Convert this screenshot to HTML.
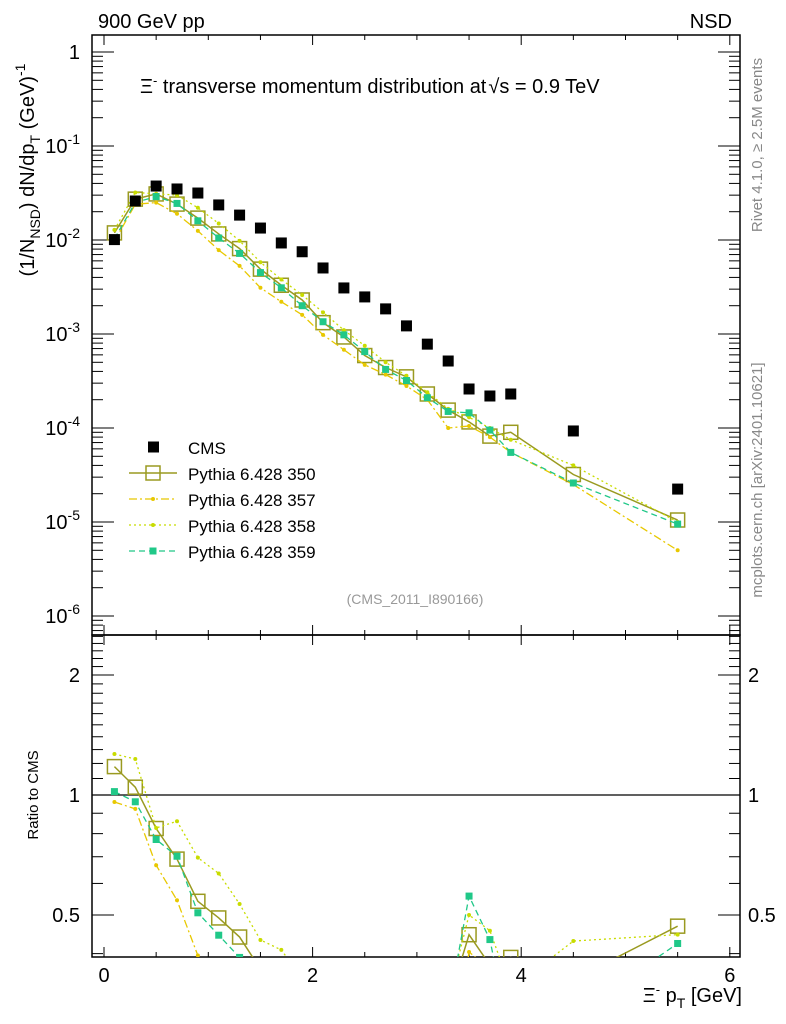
<!DOCTYPE html>
<html><head><meta charset="utf-8"><style>
html,body{margin:0;padding:0;background:#fff;width:786px;height:1024px;overflow:hidden}
svg{display:block}
svg text{font-family:"Liberation Sans",sans-serif}
</style></head><body>
<svg id="c" width="786" height="1024" xmlns="http://www.w3.org/2000/svg">
<defs>
<clipPath id="cm"><rect x="92" y="35" width="648" height="600"/></clipPath>
<clipPath id="cr"><rect x="92" y="635" width="648" height="322"/></clipPath>
</defs>
<text x="98" y="28" font-size="20">900 GeV pp</text>
<text x="732" y="28" font-size="20" text-anchor="end">NSD</text>
<text x="140" y="93" font-size="20">Ξ<tspan dy="-8" font-size="13">-</tspan><tspan dy="8"> transverse momentum distribution at</tspan><tspan dx="2">√s = 0.9 TeV</tspan></text>
<text x="415" y="604" font-size="14" fill="#999" text-anchor="middle">(CMS_2011_I890166)</text>
<text transform="translate(762,145) rotate(-90)" font-size="15" fill="#888" text-anchor="middle">Rivet 4.1.0, ≥ 2.5M events</text>
<text transform="translate(762,480) rotate(-90)" font-size="15" fill="#888" text-anchor="middle">mcplots.cern.ch [arXiv:2401.10621]</text>
<text transform="translate(34,170) rotate(-90)" font-size="20" text-anchor="middle">(1/N<tspan dy="6" font-size="14">NSD</tspan><tspan dy="-6">) dN/dp</tspan><tspan dy="6" font-size="14">T</tspan><tspan dy="-6"> (GeV)</tspan><tspan dy="-9" font-size="14">-1</tspan></text>
<text transform="translate(38,795) rotate(-90)" font-size="15" text-anchor="middle">Ratio to CMS</text>
<text x="742" y="1002" font-size="20" text-anchor="end">Ξ<tspan dy="-8" font-size="13">-</tspan><tspan dy="8"> p</tspan><tspan dy="6" font-size="14">T</tspan><tspan dy="-6"> [GeV]</tspan></text>
<g id="axes"></g><g id="marks"></g><g id="legend"></g>
</svg>
<script>
const xs=[0.1,0.3,0.5,0.7,0.9,1.1,1.3,1.5,1.7,1.9,2.1,2.3,2.5,2.7,2.9,3.1,3.3,3.5,3.7,3.9,4.5,5.5];
const cms=[0.0101,0.026,0.0375,0.0349,0.0316,0.0236,0.0184,0.0134,0.0093,0.0075,0.00504,0.00309,0.00248,0.00185,0.00122,0.00078,0.000516,0.00026,0.000219,0.00023,9.3e-5,2.24e-5];
const p350=[0.0119,0.0272,0.0309,0.0241,0.0171,0.0116,0.0081,0.0049,0.0033,0.0023,0.00132,0.00093,0.00059,0.00044,0.00035,0.00023,0.000155,0.000116,8.2e-5,9e-5,3.2e-5,1.05e-5];
const p357=[0.0097,0.024,0.025,0.019,0.0125,0.0078,0.0053,0.0031,0.0022,0.0016,0.00098,0.00068,0.00047,0.00037,0.00028,0.0002,0.0001,0.000105,8e-5,5.5e-5,2.5e-5,5e-6];
const p358=[0.0128,0.032,0.031,0.030,0.022,0.015,0.0098,0.0058,0.0038,0.0026,0.0017,0.0011,0.00075,0.0005,0.00036,0.00024,0.00016,0.00013,0.0001,7.5e-5,4e-5,1.0e-5];
const p359=[0.0103,0.025,0.029,0.0245,0.016,0.0105,0.0072,0.0045,0.0031,0.002,0.00135,0.00098,0.00065,0.00042,0.00032,0.00021,0.00015,0.000145,9.5e-5,5.5e-5,2.6e-5,9.5e-6];
const xTicks=[0,2,4,6];
const yTicks=[0,-1,-2,-3,-4,-5,-6];
const rTicks=[0.5,1,2];
const NS="http://www.w3.org/2000/svg";
const L=92,R=740,T=35,MB=635,RB=957;
const X=v=>104+v*104.3;
const Y=v=>52-Math.log10(v)*94;
const YR=v=>795-Math.log10(v)*398.6;
function mk(p,tag,at){const e=document.createElementNS(NS,tag);for(const k in at)e.setAttribute(k,at[k]);p.appendChild(e);return e;}
const ax=document.getElementById('axes'),mg=document.getElementById('marks'),lg=document.getElementById('legend');
function ln(x1,y1,x2,y2,w){return mk(ax,'line',{x1,y1,x2,y2,stroke:'#000','stroke-width':w||1});}
let f=mk(ax,'rect',{x:L,y:T,width:R-L,height:MB-T,fill:'none',stroke:'#000','stroke-width':1.5});

f=mk(ax,'rect',{x:L,y:MB,width:R-L,height:RB-MB,fill:'none',stroke:'#000','stroke-width':1.5});

// x ticks
for(let v=0;v<=6.01;v+=0.5){const x=X(v);if(x>R)continue;const maj=Math.abs(v-Math.round(v/2)*2)<0.01;const l=maj?10:5;
ln(x,MB,x,MB-l);ln(x,T,x,T+l);ln(x,RB,x,RB-l);ln(x,MB,x,MB+l);}
xTicks.forEach(v=>{const t=mk(ax,'text',{x:X(v),y:982,'font-size':20,'text-anchor':'middle'});t.textContent=v;
});
// y ticks log
for(let d=-7;d<=0;d++)for(let m=1;m<10;m++){const v=m*Math.pow(10,d);const y=Y(v);if(y<T||y>MB)continue;const l=m==1?22:11;ln(L,y,L+l,y);ln(R,y,R-l,y);}
yTicks.forEach(e=>{const t=mk(ax,'text',{x:80,y:Y(Math.pow(10,e))+7,'font-size':20,'text-anchor':'end'});
if(e==0)t.textContent='1';else{t.textContent='10';const s=mk(t,'tspan',{dy:-9,'font-size':14});s.textContent=e;}
});
// ratio ticks
for(let m=4;m<=25;m++){const v=m/10;const y=YR(v);if(y<MB||y>RB)continue;const maj=(v==0.5||v==1||v==2);const l=maj?22:11;ln(L,y,L+l,y);ln(R,y,R-l,y);}
rTicks.forEach(v=>{const y=YR(v)+7;let t=mk(ax,'text',{x:80,y,'font-size':20,'text-anchor':'end'});t.textContent=v;

t=mk(ax,'text',{x:748,y,'font-size':20});t.textContent=v;
});
let ref=ln(L,YR(1),R,YR(1),1.3);
// series
const series=[
{n:'350',d:p350,c:'#9a9a20',dash:'',mark:'open',w:1.5},
{n:'357',d:p357,c:'#e8c800',dash:'8,3,2,3',mark:'dot',w:1.3},
{n:'358',d:p358,c:'#c8dc00',dash:'2,3',mark:'dot',w:1.3},
{n:'359',d:p359,c:'#20c888',dash:'6,4',mark:'sq',w:1.3}];
function marker(g,s,x,y){
 if(s.mark=='open')mk(g,'rect',{x:x-7,y:y-7,width:14,height:14,fill:'none',stroke:s.c,'stroke-width':1.5});
 else if(s.mark=='sq')mk(g,'rect',{x:x-3.5,y:y-3.5,width:7,height:7,fill:s.c});
 else mk(g,'circle',{cx:x,cy:y,r:2,fill:s.c});
}
series.forEach(s=>{
 const g=mk(mg,'g',{'clip-path':'url(#cm)'});
 
 mk(g,'polyline',{points:xs.map((x,i)=>X(x)+','+Y(s.d[i])).join(' '),fill:'none',stroke:s.c,'stroke-width':s.w,'stroke-dasharray':s.dash});
 xs.forEach((x,i)=>marker(g,s,X(x),Y(s.d[i])));
 const gr=mk(mg,'g',{'clip-path':'url(#cr)'});
 
 mk(gr,'polyline',{points:xs.map((x,i)=>X(x)+','+YR(s.d[i]/cms[i])).join(' '),fill:'none',stroke:s.c,'stroke-width':s.w,'stroke-dasharray':s.dash});
 xs.forEach((x,i)=>marker(gr,s,X(x),YR(s.d[i]/cms[i])));
});
const gc=mk(mg,'g',{'clip-path':'url(#cm)'});

xs.forEach((x,i)=>mk(gc,'rect',{x:X(x)-5.5,y:Y(cms[i])-5.5,width:11,height:11,fill:'#000'}));
// legend
const ents=[{n:'CMS',k:'cms'}].concat(series.map(s=>({n:'Pythia 6.428 '+s.n,s})));
ents.forEach((e,i)=>{const y=447+i*26;const g=mk(lg,'g',{});
 
 if(e.k)mk(g,'rect',{x:148,y:y-5.5,width:11,height:11,fill:'#000'});
 else{mk(g,'line',{x1:129,y1:y,x2:177,y2:y,stroke:e.s.c,'stroke-width':e.s.w,'stroke-dasharray':e.s.dash});marker(g,e.s,153,y);}
 const t=mk(g,'text',{x:188,y:y+7,'font-size':17});t.textContent=e.n;});
</script>
</body></html>
